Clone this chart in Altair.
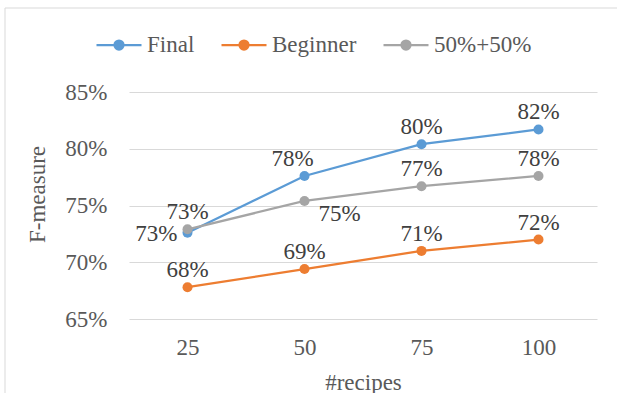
import altair as alt
import pandas as pd

categories = ["25", "50", "75", "100"]
series_names = ["Final", "Beginner", "50%+50%"]
final_vals = [0.726, 0.776, 0.804, 0.817]
beginner_vals = [0.678, 0.694, 0.710, 0.720]
mixed_vals = [0.729, 0.754, 0.767, 0.776]
colors = ["#5B9BD5", "#ED7D31", "#A5A5A5"]
y_ticks = [0.65, 0.70, 0.75, 0.80, 0.85]

rows = []
for name, vals in zip(series_names, [final_vals, beginner_vals, mixed_vals]):
    for c, v in zip(categories, vals):
        rows.append({"recipes": c, "series": name, "value": v})
df = pd.DataFrame(rows)

FONT = "Liberation Serif"
W, H = 468, 227

SYMBOL = ("M-1,0L1,0"
          "M-0.2,0A0.2,0.2,0,1,1,0.2,0A0.2,0.2,0,1,1,-0.2,0"
          "M-0.12,0A0.12,0.12,0,1,1,0.12,0A0.12,0.12,0,1,1,-0.12,0"
          "M-0.04,0A0.04,0.04,0,1,1,0.04,0A0.04,0.04,0,1,1,-0.04,0")

x = alt.X("recipes:O", sort=categories,
          scale=alt.Scale(type="point", padding=0.5),
          axis=alt.Axis(title="#recipes", labelAngle=0, domain=False, ticks=False,
                        labelPadding=17, titleBaseline="alphabetic", titleY=70,
                        grid=False))
y = alt.Y("value:Q", scale=alt.Scale(domain=[0.65, 0.85], nice=False, zero=False),
          axis=alt.Axis(title="F-measure", format=".0%", values=y_ticks, domain=False,
                        ticks=False, labelPadding=22, gridColor="#d9d9d9", gridWidth=1,
                        titleAngle=-90, titleX=-92, titleY=102, titleAlign="center",
                        titleBaseline="middle"))
color_scale = alt.Scale(domain=series_names, range=colors)
color = alt.Color("series:N", sort=series_names, scale=color_scale,
                  legend=alt.Legend(title=None, orient="none", direction="horizontal",
                                    legendX=-34, legendY=-71,
                                    symbolType=SYMBOL,
                                    symbolSize=2025, symbolStrokeWidth=2.25,
                                    labelFont=FONT, labelFontSize=23, labelColor="#595959",
                                    labelOffset=4, columnPadding=22))

base = alt.Chart(df)

border = alt.Chart(pd.DataFrame({"a": [0]})).mark_rect(
    fill="transparent", stroke="#d9d9d9", strokeWidth=1
).encode(x=alt.value(-124), x2=alt.value(W + 60), y=alt.value(-84), y2=alt.value(H + 120))

lines = base.mark_line(strokeWidth=2.25).encode(x=x, y=y, color=color)
points = base.mark_point(filled=True, size=100, opacity=1).encode(
    x=x, y=y, color=alt.Color("series:N", sort=series_names, scale=color_scale, legend=None))

def label_layer(expr, **kw):
    return base.transform_filter(expr).mark_text(
        font=FONT, fontSize=23, color="#404040", **kw
    ).encode(x=x, y=y, text=alt.Text("value:Q", format=".0%"))

is_f25 = "datum.series=='Final' && datum.recipes=='25'"
is_f50 = "datum.series=='Final' && datum.recipes=='50'"
is_m50 = "datum.series=='50%+50%' && datum.recipes=='50'"

above = label_layer(f"!({is_f25}) && !({is_f50}) && !({is_m50})", dy=-17, baseline="middle")
f50 = label_layer(is_f50, dx=-12, dy=-17, baseline="middle")
f25 = label_layer(is_f25, align="right", dx=-10, dy=1, baseline="middle")
m50 = label_layer(is_m50, dx=35, dy=13, baseline="middle")

chart = alt.layer(border, lines, points, above, f50, f25, m50).properties(
    width=W, height=H,
    background="white",
    autosize=alt.AutoSizeParams(type="none"),
    padding={"left": 129, "top": 92, "right": 20, "bottom": 74},
).configure_view(stroke=None).configure_axis(
    labelFont=FONT, labelFontSize=23, labelColor="#595959",
    titleFont=FONT, titleFontSize=23, titleColor="#595959", titleFontWeight="normal",
)

chart.save("out.html", embed_options={"renderer": "svg", "actions": False})
